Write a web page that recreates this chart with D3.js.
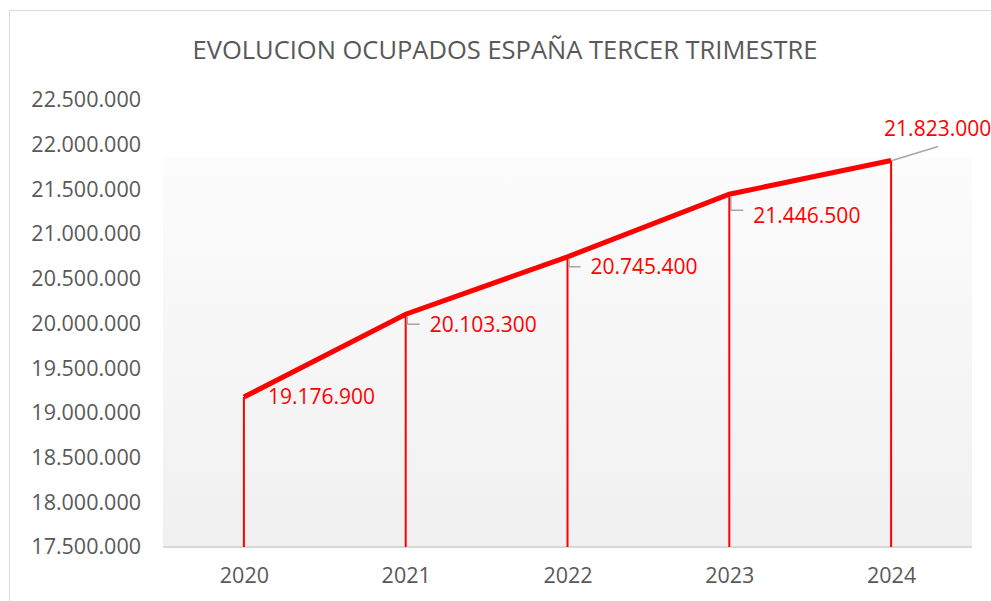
<!DOCTYPE html>
<html>
<head>
<meta charset="utf-8">
<script src="https://cdn.jsdelivr.net/npm/d3@7"></script>
<style>
  body { margin: 0; background: #fff; }
  svg { display: block; font-family: "Open Sans", "Liberation Sans", sans-serif; }
</style>
</head>
<body>
<div id="chart"></div>
<script>
// data
var years = ["2020", "2021", "2022", "2023", "2024"];
var ocupados = [19176900, 20103300, 20745400, 21446500, 21823000];
var yTicks = [17500000, 18000000, 18500000, 19000000, 19500000, 20000000, 20500000, 21000000, 21500000, 22000000, 22500000];

var width = 991, height = 601;
var margin = {left: 163, right: 19, top: 100, bottom: 54};

var svg = d3.select("#chart").append("svg")
    .attr("width", width).attr("height", height);

// outer chart border
svg.append("rect")
    .attr("x", 9.5).attr("y", 10.5)
    .attr("width", 1000).attr("height", 700)
    .attr("fill", "#fff").attr("stroke", "#d9d9d9");

var x = d3.scalePoint().domain(years)
    .range([margin.left, width - margin.right]).padding(0.5);
var y = d3.scaleLinear().domain([17500000, 22500000])
    .range([height - margin.bottom, margin.top]);

// plot background gradient
var grad = svg.append("defs").append("linearGradient")
    .attr("id", "bg").attr("x1", 0).attr("y1", 0).attr("x2", 0).attr("y2", 1);
grad.append("stop").attr("offset", "0%").attr("stop-color", "#ffffff");
grad.append("stop").attr("offset", "12.5%").attr("stop-color", "#ffffff");
grad.append("stop").attr("offset", "13%").attr("stop-color", "#fcfcfc");
grad.append("stop").attr("offset", "100%").attr("stop-color", "#f0f0f0");

svg.append("rect")
    .attr("x", margin.left).attr("y", margin.top)
    .attr("width", width - margin.right - margin.left)
    .attr("height", height - margin.bottom - margin.top)
    .attr("fill", "url(#bg)");

// title
svg.append("text")
    .attr("x", 505).attr("y", 59)
    .attr("text-anchor", "middle")
    .attr("fill", "#595959")
    .style("font-size", "25.5px")
    .text("EVOLUCION OCUPADOS ESPAÑA TERCER TRIMESTRE");

var fmt = d3.formatLocale({decimal: ",", thousands: ".", grouping: [3], currency: ["", ""]}).format(",d");

// y axis
var yAxis = svg.append("g")
    .attr("transform", "translate(141,0)")
    .call(d3.axisLeft(y).tickValues(yTicks).tickFormat(fmt).tickSize(0).tickPadding(0));
yAxis.select(".domain").remove();
yAxis.selectAll("text")
    .attr("fill", "#595959")
    .style("font-size", "21.5px")
    .style("font-family", "'Open Sans', sans-serif");

// x axis
var xAxis = svg.append("g")
    .attr("transform", "translate(0," + (height - margin.bottom) + ")")
    .call(d3.axisBottom(x).tickSize(0).tickPadding(21));
xAxis.select(".domain")
    .attr("stroke", "#d9d9d9").attr("stroke-width", 2)
    .attr("d", "M" + margin.left + ",0H" + (width - margin.right));
xAxis.selectAll("text")
    .attr("fill", "#595959")
    .style("font-size", "21.5px")
    .style("font-family", "'Open Sans', sans-serif");

var pts = years.map(function(yr, i) { return {year: yr, v: ocupados[i]}; });

// drop lines
svg.selectAll(".drop").data(pts).enter().append("line")
    .attr("class", "drop")
    .attr("x1", function(d) { return x(d.year); })
    .attr("x2", function(d) { return x(d.year); })
    .attr("y1", function(d) { return y(d.v); })
    .attr("y2", y(17500000))
    .attr("stroke", "#ff0000").attr("stroke-width", 2);

// main line
svg.append("path")
    .datum(pts)
    .attr("fill", "none")
    .attr("stroke", "#ff0000")
    .attr("stroke-width", 5)
    .attr("d", d3.line().x(function(d) { return x(d.year); }).y(function(d) { return y(d.v); }));

// data labels (offsets from point) and leader lines
var labelOffsets = [[24, 0], [24, 10], [23, 10], [24, 21], [-7, -32]];
var leaderY = [0, 10, 10, 16, 0];
pts.forEach(function(d, i) {
    var px = x(d.year), py = y(d.v);
    var o = labelOffsets[i];
    if (i >= 1 && i <= 3) {
        svg.append("path")
            .attr("d", "M" + (px + 1.5) + "," + (py + 2) + "V" + (py + leaderY[i]) + "H" + (px + o[0] - 10))
            .attr("fill", "none").attr("stroke", "#a6a6a6").attr("stroke-width", 1.5);
    } else if (i === 4) {
        svg.append("line")
            .attr("x1", px + 1).attr("y1", py)
            .attr("x2", px + 47).attr("y2", py - 14)
            .attr("stroke", "#a6a6a6").attr("stroke-width", 1.5);
    }
    svg.append("text")
        .attr("x", px + o[0]).attr("y", py + o[1])
        .attr("dy", "0.35em")
        .attr("fill", "#ff0000")
        .style("font-size", "21px")
        .text(fmt(d.v));
});
</script>
</body>
</html>
